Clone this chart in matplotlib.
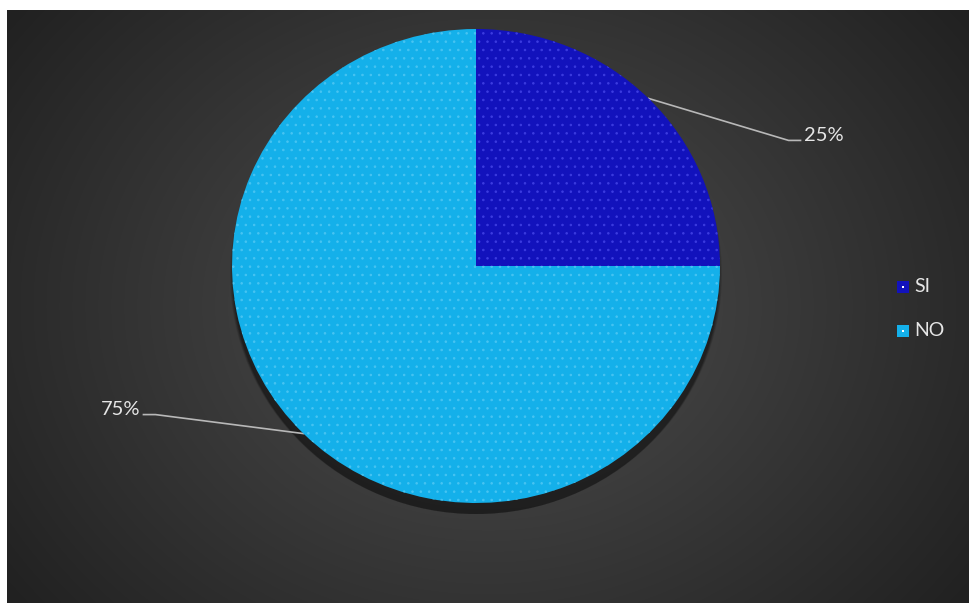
import numpy as np
import matplotlib
matplotlib.use("Agg")
import matplotlib.pyplot as plt
from matplotlib.patches import Ellipse, Rectangle

categories = ["SI", "NO"]
values = [25, 75]
labels = ["25%", "75%"]
colors = ["#1212bc", "#14b0ea"]
hatch_colors = ["#3c3ce0", "#48c4f2"]

plt.rcParams['font.family'] = ['Lato', 'DejaVu Sans']
plt.rcParams['hatch.linewidth'] = 0.6

W, H = 970, 603
fig = plt.figure(figsize=(W / 100, H / 100), dpi=100)
fig.patch.set_facecolor("white")

# dark radial gradient background panel
bg = fig.add_axes([7 / W, 0, (W - 7) / W, (H - 10) / H])
yy, xx = np.mgrid[0:1:300j, 0:1:480j]
r = np.sqrt(((xx - 0.5) * 1.0) ** 2 + ((yy - 0.5) * 0.75) ** 2)
shade = 0.31 - 0.18 * np.clip(r / 0.62, 0, 1)
img = np.dstack([shade, shade, shade])
bg.imshow(img, aspect="auto", extent=[0, 1, 0, 1], interpolation="bilinear")
bg.axis("off")

# overlay axes in pixel coordinates
ax = fig.add_axes([0, 0, 1, 1])
ax.set_xlim(0, W)
ax.set_ylim(0, H)
ax.axis("off")
ax.patch.set_alpha(0)

cx, cy, rx, ry = 476, 337, 244, 237

# soft shadow under the pie
for i, a in enumerate([0.10, 0.12, 0.15, 0.2]):
    ax.add_patch(Ellipse((cx, cy - 9 - i), 2 * rx + 4 - 2 * i, 2 * ry + 4 - 2 * i,
                         facecolor="black", alpha=a, lw=0, zorder=1))

# pie in its own axes, stretched slightly into an ellipse
pax = fig.add_axes([(cx - rx) / W, (cy - ry) / H, 2 * rx / W, 2 * ry / H])
pax.patch.set_alpha(0)
wedges, _ = pax.pie(values, colors=colors, startangle=90, counterclock=False,
                    radius=1, wedgeprops=dict(linewidth=0))
for w, hc in zip(wedges, hatch_colors):
    w.set_hatch("..")
    w.set_edgecolor(hc)
    w.set_linewidth(0)
pax.set_xlim(-1, 1)
pax.set_ylim(-1, 1)
pax.set_aspect("auto")
pax.axis("off")

# labels with leader lines
offsets = [(140, -42), (-148, 19)]
for w, lab, (dx, dy) in zip(wedges, labels, offsets):
    ang = np.deg2rad((w.theta1 + w.theta2) / 2)
    px, py = cx + rx * np.cos(ang), cy + ry * np.sin(ang)
    ex, ey = px + dx, py + dy
    side = 1 if dx > 0 else -1
    ax.plot([px, ex, ex + side * 12], [py, ey, ey], color="#b8b8b8", lw=1.2, zorder=3)
    ax.text(ex + side * 15, ey + 5, lab, color="#e6e6e6", fontsize=14.5,
            ha="left" if side > 0 else "right", va="center")

# legend
leg_x, leg_y = 897, H - 287
for i, (cat, c) in enumerate(zip(categories, colors)):
    y = leg_y - i * 44
    ax.add_patch(Rectangle((leg_x, y - 6), 12, 12, facecolor=c, lw=0, zorder=3))
    ax.add_patch(Rectangle((leg_x + 5, y - 1), 2, 2, facecolor="white", lw=0, zorder=4))
    ax.text(leg_x + 17, y, cat, color="#e6e6e6", fontsize=14, va="center", ha="left")

fig.savefig("out.png", dpi=100, facecolor=fig.get_facecolor())
